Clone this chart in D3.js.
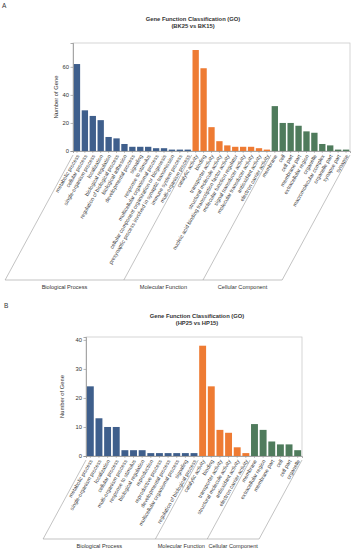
<!DOCTYPE html>
<html>
<head>
<meta charset="utf-8">
<script src="https://cdn.jsdelivr.net/npm/d3@7/dist/d3.min.js"></script>
<style>
body { margin: 0; background: #fff; }
svg { font-family: "Liberation Sans", Arial, sans-serif; }
</style>
</head>
<body>
<svg id="chart" width="355" height="550"></svg>
<script>
// ---- Panel A data (BK25 vs BK15) ----
var bpNamesA = ["metabolic process", "cellular process", "single-organism process", "localization",
    "biological regulation", "regulation of biological process", "biological adhesion",
    "developmental process", "signaling", "response to stimulus", "multicellular organismal process",
    "cellular component organization or biogenesis",
    "presynaptic process involved in synaptic transmission", "immune system process",
    "multi-organism process"];
var bpValuesA = [62, 29, 25, 22, 10, 9, 5, 3, 3, 3, 2, 2, 1, 1, 1];
var mfNamesA = ["catalytic activity", "binding", "transporter activity", "structural molecule activity",
    "nucleic acid binding transcription factor activity", "molecular function regulator",
    "signal transducer activity", "molecular transducer activity", "antioxidant activity",
    "electron carrier activity"];
var mfValuesA = [72, 59, 17, 7, 4, 3, 3, 3, 2, 1];
var ccNamesA = ["membrane", "cell", "cell part", "membrane part", "extracellular region", "organelle",
    "macromolecular complex", "organelle part", "synapse part", "synapse"];
var ccValuesA = [32, 20, 20, 18, 14, 13, 5, 4, 1, 1];
var yTicksA = [0, 20, 40, 60];

// ---- Panel B data (HP25 vs HP15) ----
var bpNamesB = ["metabolic process", "single-organism process", "localization", "cellular process",
    "multi-organism process", "response to stimulus", "biological regulation", "reproduction",
    "reproductive process", "developmental process", "multicellular organismal process", "signaling",
    "regulation of biological process"];
var bpValuesB = [24, 13, 10, 10, 2, 2, 2, 1, 1, 1, 1, 1, 1];
var mfNamesB = ["catalytic activity", "binding", "transporter activity", "structural molecule activity",
    "antioxidant activity", "electron carrier activity"];
var mfValuesB = [38, 24, 9, 8, 3, 1];
var ccNamesB = ["membrane", "extracellular region", "membrane part", "cell", "cell part", "organelle"];
var ccValuesB = [11, 9, 5, 4, 4, 2];
var yTicksB = [0, 10, 20, 30, 40];

var groupNames = ["Biological Process", "Molecular Function", "Cellular Component"];
var groupColors = ["#3f5f8c", "#ee7b33", "#4f7b5c"];

var svg = d3.select("#chart");

function drawPanel(cfg) {
    var groups = [
        {names: cfg.bp[0], values: cfg.bp[1]},
        {names: cfg.mf[0], values: cfg.mf[1]},
        {names: cfg.cc[0], values: cfg.cc[1]}
    ];
    var rows = [];
    groups.forEach(function(g, gi) {
        g.names.forEach(function(n, i) {
            rows.push({key: gi + ":" + n, name: n, value: g.values[i], group: gi});
        });
    });

    var x = d3.scaleBand()
        .domain(rows.map(function(d) { return d.key; }))
        .range([cfg.left, cfg.right])
        .paddingInner(0.2)
        .paddingOuter(0.1);
    var y = d3.scaleLinear()
        .domain([0, cfg.yMax])
        .range([cfg.bottom, cfg.top]);

    var g = svg.append("g");

    // panel letter
    g.append("text")
        .attr("x", cfg.letterX).attr("y", cfg.letterY)
        .attr("font-size", 6.5).attr("fill", "#333")
        .text(cfg.letter);

    // title
    var title = g.append("text")
        .attr("x", cfg.titleX).attr("y", cfg.titleY)
        .attr("text-anchor", "middle")
        .attr("font-size", 5.8).attr("font-weight", "bold").attr("fill", "#333");
    title.append("tspan").attr("x", cfg.titleX).text("Gene Function Classification (GO)");
    title.append("tspan").attr("x", cfg.titleX).attr("dy", 7.2).text(cfg.subtitle);

    // frame
    g.append("rect")
        .attr("x", cfg.left).attr("y", cfg.top)
        .attr("width", cfg.right - cfg.left).attr("height", cfg.bottom - cfg.top)
        .attr("fill", "none").attr("stroke", "#c4c4c4").attr("stroke-width", 0.7);

    // bars
    g.selectAll(".bar")
        .data(rows)
        .join("rect")
        .attr("class", "bar")
        .attr("x", function(d) { return x(d.key); })
        .attr("width", x.bandwidth())
        .attr("y", function(d) { return y(d.value); })
        .attr("height", function(d) { return y(0) - y(d.value); })
        .attr("fill", function(d) { return groupColors[d.group]; });

    // y axis
    var yAxis = g.append("g")
        .attr("transform", "translate(" + cfg.left + ",0)")
        .call(d3.axisLeft(y).tickValues(cfg.ticks).tickSize(2.5).tickPadding(1.5));
    yAxis.select(".domain").attr("stroke", "#888").attr("stroke-width", 0.7);
    yAxis.selectAll(".tick line").attr("stroke", "#888").attr("stroke-width", 0.6);
    yAxis.selectAll(".tick text").attr("font-size", 5.8).attr("fill", "#333")
        .attr("font-family", "Liberation Sans, Arial, sans-serif");

    g.append("text")
        .attr("transform", "translate(" + cfg.yLabelX + "," + ((cfg.top + cfg.bottom) / 2) + ") rotate(-90)")
        .attr("text-anchor", "middle")
        .attr("font-size", 5.8).attr("fill", "#333")
        .text("Number of Gene");

    // x axis ticks and rotated labels
    var xAxis = g.append("g")
        .attr("transform", "translate(0," + cfg.bottom + ")")
        .call(d3.axisBottom(x).tickSize(2).tickFormat(""));
    xAxis.select(".domain").attr("stroke", "#888").attr("stroke-width", 0.7);
    xAxis.selectAll(".tick line").attr("stroke", "#888").attr("stroke-width", 0.5);

    g.selectAll(".xlab")
        .data(rows)
        .join("text")
        .attr("class", "xlab")
        .attr("transform", function(d) {
            return "translate(" + (x(d.key) + x.bandwidth() / 2 + 1) + "," + (cfg.bottom + 4) + ") rotate(-60)";
        })
        .attr("text-anchor", "end")
        .attr("dy", "0.35em")
        .attr("font-size", 5.3).attr("fill", "#333")
        .text(function(d) { return d.name; });

    // group brackets: slanted lines from group boundaries, joined by a baseline
    var step = x.step();
    var half = step * x.paddingInner() / 2;
    var bounds = [cfg.left];
    var start = 0;
    groups.forEach(function(gr, gi) {
        if (gi > 0) bounds.push(x(rows[start].key) - half);
        start += gr.names.length;
    });
    bounds.push(cfg.right);
    var slope = Math.tan(61.5 * Math.PI / 180);
    var dx = (cfg.baseY - cfg.lineTop) / slope;

    bounds.forEach(function(b) {
        g.append("line")
            .attr("x1", b).attr("y1", cfg.lineTop)
            .attr("x2", b - dx).attr("y2", cfg.baseY)
            .attr("stroke", "#9a9a9a").attr("stroke-width", 0.6);
    });
    g.append("line")
        .attr("x1", bounds[0] - dx).attr("y1", cfg.baseY)
        .attr("x2", bounds[3] - dx).attr("y2", cfg.baseY)
        .attr("stroke", "#9a9a9a").attr("stroke-width", 0.6);

    groupNames.forEach(function(name, i) {
        g.append("text")
            .attr("x", (bounds[i] + bounds[i + 1]) / 2 - dx)
            .attr("y", cfg.baseY + 9)
            .attr("text-anchor", "middle")
            .attr("font-size", 5.6).attr("fill", "#333")
            .text(name);
    });
}

drawPanel({
    letter: "A", letterX: 2, letterY: 8,
    subtitle: "(BK25 vs BK15)", titleX: 193, titleY: 21,
    bp: [bpNamesA, bpValuesA], mf: [mfNamesA, mfValuesA], cc: [ccNamesA, ccValuesA],
    left: 73, right: 350, top: 43, bottom: 151, yMax: 77, ticks: yTicksA,
    yLabelX: 58, lineTop: 155, baseY: 280
});

drawPanel({
    letter: "B", letterX: 4, letterY: 308,
    subtitle: "(HP25 vs HP15)", titleX: 197, titleY: 318,
    bp: [bpNamesB, bpValuesB], mf: [mfNamesB, mfValuesB], cc: [ccNamesB, ccValuesB],
    left: 86, right: 302, top: 337, bottom: 456, yMax: 41, ticks: yTicksB,
    yLabelX: 64, lineTop: 460, baseY: 539
});
</script>
</body>
</html>
